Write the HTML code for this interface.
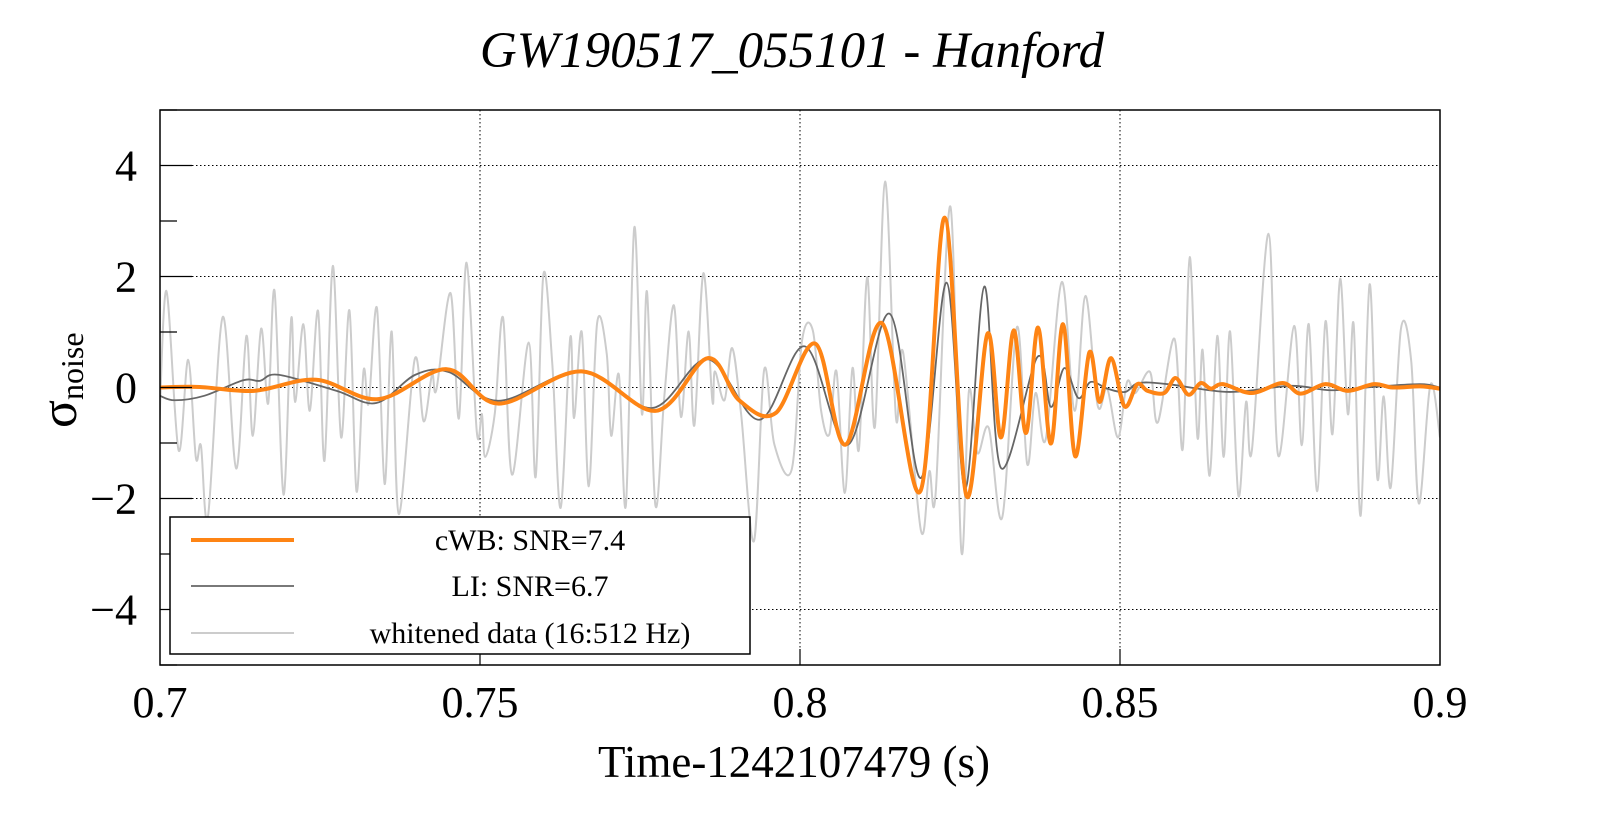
<!DOCTYPE html>
<html><head><meta charset="utf-8"><style>
html,body{margin:0;padding:0;background:#fff;}
svg{display:block;font-family:"Liberation Serif",serif;}
</style></head><body>
<svg id="chart" width="1599" height="813" viewBox="0 0 1599 813">
<text x="792" y="67" text-anchor="middle" font-size="51" font-style="italic">GW190517_055101 - Hanford</text>
<g id="grid"></g>
<defs><clipPath id="clip"><rect x="160" y="110" width="1280" height="555"/></clipPath></defs>
<g id="series" clip-path="url(#clip)"></g>
<rect x="160" y="110" width="1280" height="555" fill="none" stroke="#000" stroke-width="1.5"/>
<g id="axes"></g>
<text x="794" y="777" text-anchor="middle" font-size="45">Time-1242107479 (s)</text>
<text transform="translate(76,428) rotate(-90)" font-size="52">σ<tspan font-size="32" dy="7">noise</tspan></text>
<g>
<rect x="170" y="517" width="580" height="137" fill="#fff" stroke="#000" stroke-width="1.5"/>
<line x1="191" y1="540" x2="294" y2="540" stroke="#fe8414" stroke-width="4"/>
<text x="530" y="550" text-anchor="middle" font-size="30">cWB: SNR=7.4</text>
<line x1="191" y1="586" x2="294" y2="586" stroke="#666" stroke-width="1.8"/>
<text x="530" y="596" text-anchor="middle" font-size="30">LI: SNR=6.7</text>
<line x1="191" y1="633" x2="294" y2="633" stroke="#ccc" stroke-width="2"/>
<text x="530" y="643" text-anchor="middle" font-size="30">whitened data (16:512 Hz)</text>
</g>
</svg>
<script>
const xTicks=[0.7,0.75,0.8,0.85,0.9];
const xTickLabels=["0.7","0.75","0.8","0.85","0.9"];
const yTicks=[-4,-2,0,2,4];
const yTickLabels=["\u22124","\u22122","0","2","4"];
const yMinor=[-5,-3,-1,1,3,5];
const whitenedT=[0.6999,0.7010,0.7029,0.7044,0.7056,0.7064,0.7075,0.7098,0.7119,0.7135,0.7145,0.7158,0.7169,0.7179,0.7193,0.7205,0.7211,0.7224,0.7234,0.7247,0.7257,0.7270,0.7283,0.7296,0.7307,0.7318,0.7326,0.7339,0.7351,0.7362,0.7373,0.7398,0.7412,0.7425,0.7432,0.7454,0.7467,0.7479,0.7495,0.7503,0.7508,0.7523,0.7536,0.7550,0.7576,0.7587,0.7599,0.7613,0.7626,0.7641,0.7647,0.7659,0.7670,0.7683,0.7698,0.7705,0.7717,0.7728,0.7741,0.7753,0.7761,0.7774,0.7788,0.7803,0.7814,0.7826,0.7835,0.7849,0.7863,0.7867,0.7882,0.7894,0.7908,0.7928,0.7944,0.7960,0.7987,0.8003,0.8020,0.8033,0.8046,0.8057,0.8070,0.8082,0.8092,0.8105,0.8117,0.8133,0.8150,0.8161,0.8189,0.8202,0.8212,0.8235,0.8252,0.8264,0.8277,0.8295,0.8316,0.8339,0.8355,0.8368,0.8384,0.8409,0.8429,0.8446,0.8465,0.8480,0.8497,0.8511,0.8524,0.8547,0.8559,0.8585,0.8598,0.8609,0.8621,0.8629,0.8640,0.8652,0.8662,0.8672,0.8685,0.8697,0.8706,0.8732,0.8747,0.8772,0.8784,0.8795,0.8808,0.8821,0.8832,0.8844,0.8856,0.8865,0.8876,0.8890,0.8902,0.8912,0.8923,0.8939,0.8955,0.8967,0.8985,0.9000];
const whitenedV=[-0.68,1.74,-1.13,0.50,-1.26,-1.05,-2.32,1.27,-1.46,0.93,-0.87,1.06,-0.29,1.74,-1.93,1.24,-0.26,1.14,-0.42,1.38,-1.32,2.19,-0.90,1.39,-1.87,0.30,-0.29,1.43,-1.74,1.01,-2.28,0.51,-0.61,0.23,-0.03,1.70,-0.56,2.25,-0.80,-0.48,-1.25,-0.48,1.26,-1.57,0.81,-1.61,2.03,0.42,-2.17,0.90,-0.55,1.00,-1.78,1.16,0.61,-0.87,0.23,-2.12,2.88,-0.48,1.72,-2.12,-0.16,1.48,-0.53,1.01,-0.68,2.06,-0.23,0.29,-0.23,0.71,-0.48,-2.77,0.32,-1.03,-1.48,0.83,1.03,-0.42,-0.84,0.29,-1.90,0.35,-1.12,1.99,-0.71,3.71,-0.55,0.64,-2.58,-1.51,-1.90,3.26,-2.94,-0.06,-1.18,-0.73,-2.34,1.09,-1.38,-0.10,-0.93,1.90,-0.42,1.65,-0.32,-0.02,-0.90,0.10,-0.10,0.28,-0.63,0.88,-1.11,2.35,-0.90,0.68,-1.59,0.93,-1.25,1.01,-1.95,-0.26,-1.14,2.77,-1.22,1.11,-1.04,1.14,-1.87,1.19,-0.84,1.96,-0.48,1.15,-2.31,1.86,-1.63,-0.16,-1.80,1.06,0.48,-2.09,0.05,-0.90];
const liT=[0.7000,0.7023,0.7069,0.7130,0.7156,0.7185,0.7276,0.7338,0.7399,0.7451,0.7529,0.7659,0.7769,0.7856,0.7937,0.8008,0.8075,0.8140,0.8189,0.8229,0.8258,0.8288,0.8314,0.8371,0.8392,0.8413,0.8435,0.8454,0.8480,0.8508,0.8529,0.8575,0.8671,0.8767,0.8830,0.8894,0.8969,0.9000];
const liV=[-0.15,-0.23,-0.15,0.13,0.12,0.23,-0.06,-0.28,0.23,0.28,-0.24,0.30,-0.37,0.51,-0.58,0.74,-1.03,1.33,-1.63,1.89,-1.83,1.82,-1.45,0.55,-0.35,0.35,-0.19,0.10,-0.02,-0.08,0.08,0.06,-0.08,0.03,-0.05,0.01,0.06,0.00];
const cwbT=[0.7000,0.7062,0.7147,0.7244,0.7341,0.7448,0.7529,0.7659,0.7775,0.7856,0.7905,0.7962,0.8024,0.8071,0.8128,0.8188,0.8226,0.8260,0.8293,0.8314,0.8334,0.8353,0.8372,0.8392,0.8411,0.8430,0.8452,0.8468,0.8486,0.8507,0.8527,0.8543,0.8569,0.8587,0.8607,0.8626,0.8642,0.8661,0.8706,0.8754,0.8782,0.8821,0.8856,0.8897,0.8926,0.8969,0.9000];
const cwbV=[0.00,0.01,-0.06,0.14,-0.21,0.33,-0.29,0.29,-0.42,0.53,-0.23,-0.46,0.79,-1.03,1.16,-1.87,3.06,-1.95,0.97,-0.90,1.03,-0.82,1.08,-1.01,1.14,-1.24,0.63,-0.26,0.53,-0.34,0.06,-0.06,-0.10,0.17,-0.13,0.08,-0.02,0.06,-0.10,0.08,-0.11,0.06,-0.06,0.06,0.00,0.02,-0.02];

const X0=160,X1=1440,Y0=665,Y1=110,TMIN=0.7,TMAX=0.9,VMIN=-5,VMAX=5;
function xs(t){return X0+(t-TMIN)/(TMAX-TMIN)*(X1-X0);}
function ys(v){return Y0-(v-VMIN)/(VMAX-VMIN)*(Y0-Y1);}
const NS="http://www.w3.org/2000/svg";
function mk(tag,attrs,parent){const e=document.createElementNS(NS,tag);for(const k in attrs)e.setAttribute(k,attrs[k]);parent.appendChild(e);return e;}
const grid=document.getElementById('grid'),axes=document.getElementById('axes'),series=document.getElementById('series');
xTicks.forEach((t,i)=>{
  if(i>0&&i<xTicks.length-1){
    const g=mk('line',{x1:xs(t),x2:xs(t),y1:Y1,y2:Y0,stroke:'#000','stroke-width':1,'stroke-dasharray':'1.5,2.5'},grid);
    
    
    const tk=mk('line',{x1:xs(t),x2:xs(t),y1:Y0,y2:Y0-16,stroke:'#000','stroke-width':1.2},axes);
    
    
  }
  const lb=mk('text',{x:xs(t),y:717,'text-anchor':'middle','font-size':44},axes);
  lb.textContent=xTickLabels[i];
  
  
});
yTicks.forEach((v,i)=>{
  const g=mk('line',{x1:X0,x2:X1,y1:ys(v),y2:ys(v),stroke:'#000','stroke-width':1,'stroke-dasharray':'1.5,2.5'},grid);
  
  
  const tk=mk('line',{x1:X0,x2:X0+32,y1:ys(v),y2:ys(v),stroke:'#000','stroke-width':1.2},axes);
  
  
  const lb=mk('text',{x:137,y:ys(v)+15,'text-anchor':'end','font-size':44},axes);
  lb.textContent=yTickLabels[i];
  
  
});
yMinor.forEach(v=>{
  const tk=mk('line',{x1:X0,x2:X0+17,y1:ys(v),y2:ys(v),stroke:'#000','stroke-width':1.2},axes);
  
  
});
function pathFrom(T,V){
  const p=T.map((t,i)=>[xs(t),ys(V[i])]);
  let d='M'+p[0][0].toFixed(2)+','+p[0][1].toFixed(2);
  for(let i=0;i<p.length-1;i++){
    const a=p[Math.max(0,i-1)],b=p[i],c=p[i+1],e=p[Math.min(p.length-1,i+2)];
    const c1x=b[0]+(c[0]-a[0])/6,c1y=b[1]+(c[1]-a[1])/6;
    const c2x=c[0]-(e[0]-b[0])/6,c2y=c[1]-(e[1]-b[1])/6;
    d+=' C'+c1x.toFixed(2)+','+c1y.toFixed(2)+' '+c2x.toFixed(2)+','+c2y.toFixed(2)+' '+c[0].toFixed(2)+','+c[1].toFixed(2);
  }
  return d;
}
const w=mk('path',{d:pathFrom(whitenedT,whitenedV),fill:'none',stroke:'#cccccc','stroke-width':2,'stroke-linejoin':'round'},series);


const li=mk('path',{d:pathFrom(liT,liV),fill:'none',stroke:'#666666','stroke-width':1.8,'stroke-linejoin':'round'},series);


const cw=mk('path',{d:pathFrom(cwbT,cwbV),fill:'none',stroke:'#fe8414','stroke-width':4,'stroke-linejoin':'round'},series);


</script>
</body></html>
